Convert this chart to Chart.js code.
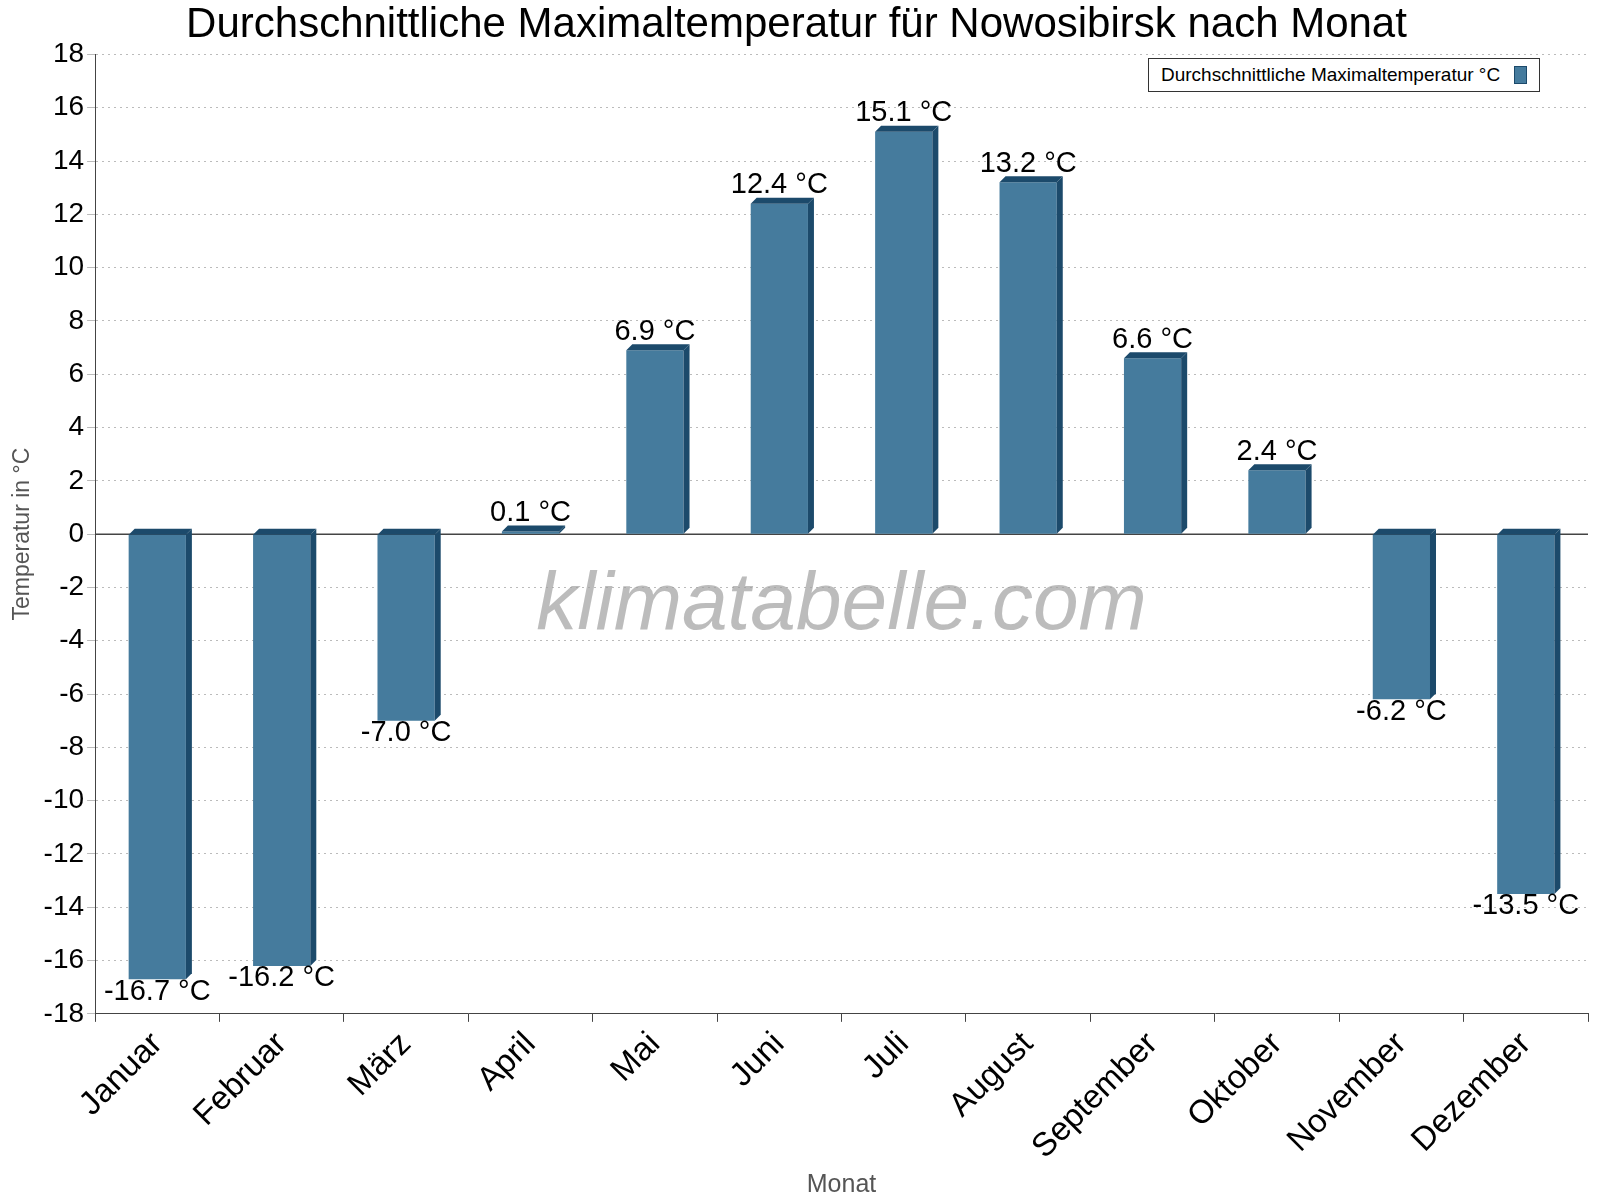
<!DOCTYPE html>
<html>
<head>
<meta charset="utf-8">
<script src="https://cdn.jsdelivr.net/npm/chart.js@4"></script>
<style>
  body { margin: 0; background: #fff; }
  #wrap { position: relative; width: 1600px; height: 1200px; }
  #legend { position: absolute; top: 58px; left: 1148px; border: 1px solid #333; background: #fff;
    font: 19px "Liberation Sans", Arial, sans-serif; padding: 5px 12px; display: flex; align-items: center; }
  #legend span.box { display: inline-block; width: 11px; height: 16px; background: #457b9d; border: 1px solid #1c4a6b; margin-left: 14px; }
</style>
</head>
<body>
<div id="wrap">
  <canvas id="myChart" width="1600" height="1200"></canvas>
  <div id="legend">Durchschnittliche Maximaltemperatur °C<span class="box"></span></div>
</div>
<script>
let months = ['Januar', 'Februar', 'März', 'April', 'Mai', 'Juni', 'Juli', 'August', 'September', 'Oktober', 'November', 'Dezember'];
let maxTemp = [-16.7, -16.2, -7.0, 0.1, 6.9, 12.4, 15.1, 13.2, 6.6, 2.4, -6.2, -13.5];
let font = '"Liberation Sans", Arial, sans-serif';

/* draw the watermark, zero line, dark top and side of each bar plus the value labels */
let bars3d = {
    id: 'bars3d',
    beforeDatasetsDraw(chart) {
        let ctx = chart.ctx;
        let a = chart.chartArea;
        let y0 = chart.scales.y.getPixelForValue(0);
        ctx.save();
        ctx.font = 'italic 82px ' + font;
        ctx.fillStyle = 'rgba(160,160,160,0.7)';
        ctx.textAlign = 'center';
        ctx.textBaseline = 'middle';
        ctx.fillText('klimatabelle.com', (a.left + a.right) / 2, chart.scales.y.getPixelForValue(-2.7));
        ctx.strokeStyle = '#444';
        ctx.lineWidth = 1.5;
        ctx.beginPath();
        ctx.moveTo(a.left, y0); ctx.lineTo(a.right, y0);
        ctx.stroke();
        ctx.restore();
    },
    afterDatasetsDraw(chart) {
        let ctx = chart.ctx;
        let d = 6;
        chart.getDatasetMeta(0).data.forEach((bar, i) => {
            let left = bar.x - bar.width / 2, right = bar.x + bar.width / 2;
            let top = Math.min(bar.y, bar.base), bottom = Math.max(bar.y, bar.base);
            ctx.save();
            ctx.fillStyle = '#1c4a6b';
            ctx.beginPath();
            ctx.moveTo(right, top); ctx.lineTo(right + d, top - d);
            ctx.lineTo(right + d, bottom - d); ctx.lineTo(right, bottom);
            ctx.closePath(); ctx.fill();
            ctx.beginPath();
            ctx.moveTo(left, top); ctx.lineTo(left + d, top - d);
            ctx.lineTo(right + d, top - d); ctx.lineTo(right, top);
            ctx.closePath(); ctx.fill();
            ctx.fillStyle = '#000';
            ctx.font = '29px ' + font;
            ctx.textAlign = 'center';
            let v = maxTemp[i];
            if (v >= 0) {
                ctx.textBaseline = 'bottom';
                ctx.fillText(v.toFixed(1) + ' °C', bar.x, bar.y - 4);
            } else {
                ctx.textBaseline = 'top';
                ctx.fillText(v.toFixed(1) + ' °C', bar.x, bar.y - 2);
            }
            ctx.restore();
        });
    }
};

new Chart(document.getElementById('myChart'), {
    type: 'bar',
    data: {
        labels: months,
        datasets: [{
            label: 'Durchschnittliche Maximaltemperatur °C',
            data: maxTemp,
            backgroundColor: '#457b9d',
            barPercentage: 0.46,
            categoryPercentage: 1
        }]
    },
    options: {
        responsive: false,
        animation: false,
        layout: { padding: { right: 12, top: 0, left: 5 } },
        plugins: {
            legend: { display: false },
            tooltip: { enabled: false },
            title: {
                display: true,
                text: 'Durchschnittliche Maximaltemperatur für Nowosibirsk nach Monat',
                color: '#000',
                font: { family: font, size: 42, weight: 'normal' },
                padding: { top: 0, bottom: 4 }
            }
        },
        scales: {
            y: {
                min: -18, max: 18,
                ticks: { stepSize: 2, color: '#000', font: { family: font, size: 28 } },
                grid: { color: '#bbb', lineWidth: 1 },
                border: { display: true, color: '#444', dash: [2, 4] },
                title: { display: true, text: 'Temperatur in °C', color: '#555', font: { family: font, size: 23 } }
            },
            x: {
                ticks: { color: '#000', font: { family: font, size: 33 }, minRotation: 45, maxRotation: 45 },
                grid: { offset: true, drawOnChartArea: false, color: '#444', tickLength: 8 },
                border: { color: '#444' },
                title: { display: true, text: 'Monat', color: '#555', font: { family: font, size: 25 }, padding: 0 }
            }
        }
    },
    plugins: [bars3d]
});
</script>
</body>
</html>
